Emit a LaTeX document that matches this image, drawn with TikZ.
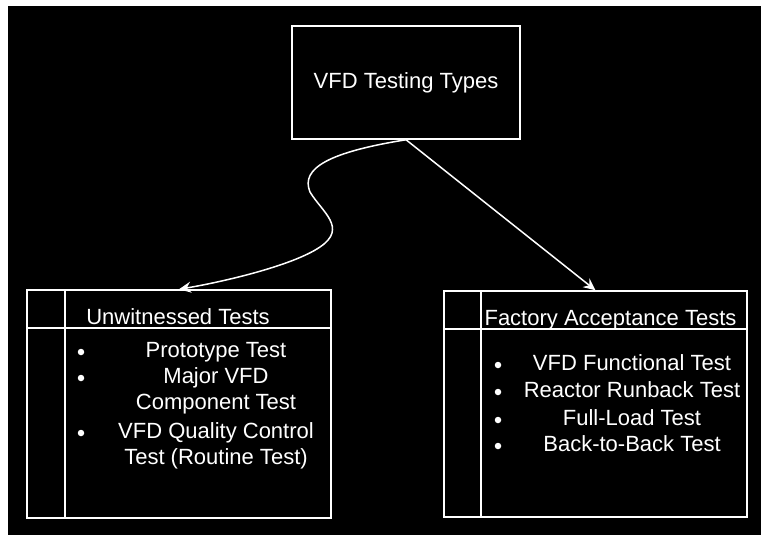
\documentclass[tikz,border=0pt]{standalone}
\usepackage{fontspec}
\setmainfont{Liberation Sans}
\usetikzlibrary{arrows.meta}
\begin{document}
\begin{tikzpicture}[x=1pt,y=-1pt,
  box/.style={draw=white, line width=1.5pt, inner sep=0pt, text=white, font=\fontsize{22}{26}\selectfont},
  ln/.style={draw=white, line width=1.5pt},
  txt/.style={text=white, anchor=base, inner sep=0pt, font=\fontsize{22}{26}\selectfont},
  bul/.style={circle, fill=white, draw=none, minimum size=6.5pt, inner sep=0pt},
  arr/.style={draw=white, line width=1.5pt, -{Stealth[length=12pt,width=11pt,inset=4pt]}}]
\useasboundingbox (0,0) rectangle (761,535);
\fill[white] (0,0) rectangle (761,535);
\fill[black] (8,6) rectangle (761,535);
% top box
\node[box, minimum width=228pt, minimum height=113pt] (top) at (406,82.5) {VFD Testing Types};
% left box
\node[box, minimum width=304pt, minimum height=228pt] (lb) at (179,404) {};
\draw[ln] (lb.west |- 0,328) -- (lb.east |- 0,328);
\draw[ln] (lb.north -| 65,0) -- (lb.south -| 65,0);
\node[txt] (lh) at (178,324) {Unwitnessed Tests};
\node[txt] (l1) at (216,357) {Prototype Test};
\node[txt] (l2a) at (216,383) {Major VFD};
\node[txt] (l2b) at (216,409) {Component Test};
\node[txt] (l3a) at (216,438) {VFD Quality Control};
\node[txt] (l3b) at (216,464) {Test (Routine Test)};
\node[bul] (lb1) at (81,352) {};
\node[bul] (lb2) at (81,378) {};
\node[bul] (lb3) at (81,433) {};
% right box
\node[box, minimum width=303pt, minimum height=226pt] (rb) at (595.5,404) {};
\draw[ln] (rb.west |- 0,329) -- (rb.east |- 0,329);
\draw[ln] (rb.north -| 481,0) -- (rb.south -| 481,0);
\node[txt] (rh) at (610.5,325) {Factory Acceptance Tests};
\node[txt] (r1) at (632,370) {VFD Functional Test};
\node[txt] (r2) at (632,397) {Reactor Runback Test};
\node[txt] (r3) at (632,425) {Full-Load Test};
\node[txt] (r4) at (632,451) {Back-to-Back Test};
\node[bul] (rb1) at (498,365) {};
\node[bul] (rb2) at (498,392) {};
\node[bul] (rb3) at (498,420) {};
\node[bul] (rb4) at (498,446) {};
% connectors
\draw[arr] (top.south) .. controls (330,152) and (300,168) .. (310,192)
  .. controls (322,212) and (348,228) .. (320,247)
  .. controls (292,266) and (222,282) .. (lb.north);
\draw[arr] (top.south) -- (rb.north);
\end{tikzpicture}
\end{document}
